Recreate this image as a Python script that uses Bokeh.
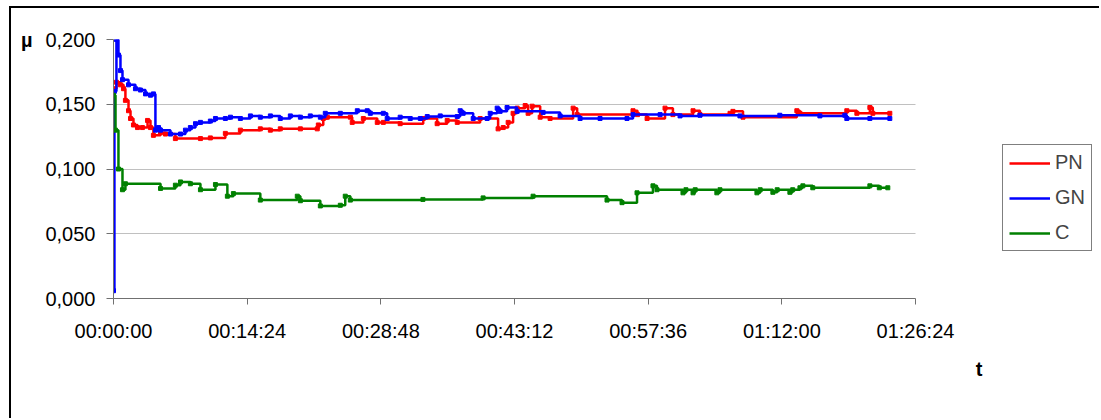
from bokeh.plotting import figure
from bokeh.models import (FixedTicker, Legend, LegendItem, LinearAxis, Title,
                          Range1d)
from bokeh.embed import file_html
from bokeh.resources import INLINE

# elapsed time in seconds, friction coefficient per curve
pn_t = [0, 19, 45, 65, 77, 97, 110, 129, 155, 187, 220, 239, 258, 304, 336, 400,
        562, 626, 723, 820, 949, 1014, 1078, 1208, 1317, 1324, 1356, 1382, 1531,
        1543, 1615, 1705, 1744, 1853, 2002, 2092, 2157, 2222, 2370, 2486, 2519,
        2551, 2583, 2609, 2661, 2680, 2706, 2758, 2822, 2971, 2997, 3358, 3387,
        3449, 3565, 3616, 3746, 3791, 3985, 4004, 4069, 4417, 4437, 4740, 4805,
        4889, 4908, 5018]
pn_mu = [0.162, 0.167, 0.165, 0.162, 0.153, 0.145, 0.139, 0.134, 0.132, 0.132,
         0.1375, 0.132, 0.126, 0.128, 0.127, 0.1235, 0.1235, 0.124, 0.1275, 0.130,
         0.131, 0.130, 0.131, 0.131, 0.131, 0.134, 0.139, 0.140, 0.140, 0.136,
         0.139, 0.136, 0.136, 0.135, 0.139, 0.135, 0.1375, 0.136, 0.139, 0.131,
         0.132, 0.136, 0.143, 0.147, 0.149, 0.143, 0.1485, 0.140, 0.139, 0.147,
         0.142, 0.145, 0.142, 0.139, 0.147, 0.142, 0.145, 0.142, 0.143, 0.1445,
         0.140, 0.145, 0.143, 0.145, 0.143, 0.1475, 0.143, 0.143]

gn_t = [0, 6, 19, 32, 45, 58, 97, 142, 174, 207, 239, 258, 271, 291, 304, 368,
        433, 465, 497, 530, 562, 626, 659, 723, 756, 820, 885, 949, 1014, 1078,
        1143, 1208, 1272, 1337, 1369, 1466, 1576, 1640, 1660, 1744, 1769, 1853,
        1918, 1983, 2028, 2112, 2222, 2241, 2260, 2325, 2415, 2435, 2480, 2499,
        2544, 2609, 2777, 2887, 3016, 3145, 3319, 3358, 3533, 3662, 3791, 4049,
        4307, 4566, 4727, 4740, 4889, 5018]
gn_mu = [0.006, 0.160, 0.200, 0.188, 0.176, 0.169, 0.165, 0.162, 0.161, 0.158,
         0.157, 0.158, 0.130, 0.132, 0.130, 0.127, 0.127, 0.130, 0.132, 0.135,
         0.136, 0.137, 0.139, 0.139, 0.140, 0.139, 0.141, 0.140, 0.141, 0.139,
         0.141, 0.140, 0.141, 0.140, 0.143, 0.143, 0.145, 0.145, 0.143, 0.143,
         0.139, 0.140, 0.139, 0.139, 0.1405, 0.141, 0.1405, 0.145, 0.143, 0.139,
         0.139, 0.143, 0.147, 0.1445, 0.1475, 0.1445, 0.1437, 0.141, 0.139, 0.139,
         0.139, 0.142, 0.142, 0.141, 0.1415, 0.141, 0.1415, 0.141, 0.1415, 0.139,
         0.139, 0.139]

c_t = [0, 13, 32, 58, 77, 304, 400, 433, 497, 562, 659, 736, 775, 949, 1188,
       1208, 1337, 1466, 1498, 1531, 2000, 2389, 2712, 3190, 3287, 3384, 3487,
       3513, 3681, 3700, 3746, 3760, 3900, 3920, 4159, 4180, 4262, 4290, 4372,
       4390, 4437, 4456, 4520, 4889, 4950, 5005]
c_mu = [0.157, 0.130, 0.100, 0.084, 0.0886, 0.085, 0.0875, 0.090, 0.0886, 0.084,
        0.088, 0.079, 0.081, 0.076, 0.079, 0.0755, 0.0715, 0.072, 0.079, 0.076,
        0.0765, 0.0777, 0.079, 0.076, 0.074, 0.0816, 0.087, 0.084, 0.0816, 0.084,
        0.0816, 0.084, 0.0816, 0.084, 0.0816, 0.084, 0.082, 0.084, 0.082, 0.084,
        0.0855, 0.087, 0.0855, 0.087, 0.0855, 0.0855]

x_ticks = [0, 864, 1728, 2592, 3456, 4320, 5184]
x_tick_labels = ["00:00:00", "00:14:24", "00:28:48", "00:43:12", "00:57:36",
                 "01:12:00", "01:26:24"]
y_ticks = [0.0, 0.05, 0.1, 0.15, 0.2]
y_tick_labels = ["0,000", "0,050", "0,100", "0,150", "0,200"]

FONT = "Liberation Sans"
AXIS_GREY = "#707070"

# canvas layout (px): the plot area holds the time axis plus the legend column
CANVAS_W, CANVAS_H = 1090, 412
LEFT, TOP, BOTTOM = 102, 31, 122
AXIS_PX = 802              # width taken by 00:00:00 .. 01:26:24
FRAME_W = 980              # axis part plus the legend column on its right
T_MAX = x_ticks[-1]
x_end = T_MAX * FRAME_W / AXIS_PX

p = figure(width=CANVAS_W, height=CANVAS_H, output_backend="svg",
           toolbar_location=None,
           x_range=Range1d(0, x_end), y_range=Range1d(0, 0.2),
           min_border_left=LEFT, min_border_right=CANVAS_W - LEFT - FRAME_W,
           min_border_top=TOP, min_border_bottom=BOTTOM)
# chart-area edge, top and left
p.styles = {"margin-left": "9px", "margin-top": "6px",
            "border-top": "2px solid black", "border-left": "2px solid black"}
p.outline_line_color = None
p.background_fill_color = "white"
p.border_fill_color = "white"

p.xgrid.grid_line_color = None
p.ygrid.grid_line_color = "#c0c0c0"
p.ygrid.ticker = FixedTicker(ticks=y_ticks)
p.ygrid.cross_bounds = (0, T_MAX)

p.xaxis.ticker = FixedTicker(ticks=x_ticks)
p.xaxis.major_label_overrides = dict(zip(x_ticks, x_tick_labels))
p.xaxis.bounds = (0, T_MAX)
p.yaxis.ticker = FixedTicker(ticks=y_ticks)
p.yaxis.major_label_overrides = dict(zip(y_ticks, y_tick_labels))

for ax in (p.xaxis, p.yaxis):
    ax.axis_line_color = AXIS_GREY
    ax.major_tick_line_color = AXIS_GREY
    ax.minor_tick_line_color = None
    ax.major_tick_in = 0
    ax.major_label_text_font = FONT
    ax.major_label_text_font_size = "20px"
    ax.major_label_text_color = "black"
p.xaxis.major_tick_out = 6
p.yaxis.major_tick_out = 7
p.xaxis.major_label_standoff = 15
p.yaxis.major_label_standoff = 11

# quantity symbol level with the top value of the y axis
mu_axis = LinearAxis(ticker=FixedTicker(ticks=[0.2]),
                     major_label_overrides={0.2: "µ"},
                     axis_line_color=None, major_tick_line_color=None,
                     minor_tick_line_color=None, major_tick_out=0,
                     major_tick_in=0, major_label_standoff=10,
                     major_label_text_font=FONT,
                     major_label_text_font_size="20px",
                     major_label_text_font_style="bold",
                     major_label_text_color="black")
p.add_layout(mu_axis, "left")

# time symbol under the right end of the chart
p.add_layout(Title(text="t", align="right", offset=111, vertical_align="top",
                   standoff=26, text_font=FONT, text_font_size="20px",
                   text_font_style="bold", text_color="black"), "below")

series = [("PN", pn_t, pn_mu, "#ff0000"),
          ("GN", gn_t, gn_mu, "#0000ff"),
          ("C", c_t, c_mu, "#008000")]
items = []
for name, t, mu, col in series:
    r = p.step(t, mu, mode="after", line_color=col, line_width=2.5)
    p.scatter(t, mu, marker="square", size=4, fill_color=col, line_color=col)
    items.append(LegendItem(label=name, renderers=[r]))

legend = Legend(items=items, location=(889, 47), orientation="vertical",
                glyph_width=41, glyph_height=20, label_height=20,
                label_standoff=5, padding=6, spacing=12, margin=0,
                label_text_font=FONT, label_text_font_size="20px",
                border_line_color="black", border_line_width=1,
                background_fill_color="white", background_fill_alpha=1)
p.add_layout(legend, "center")

open("out.html", "w").write(file_html(p, INLINE))
